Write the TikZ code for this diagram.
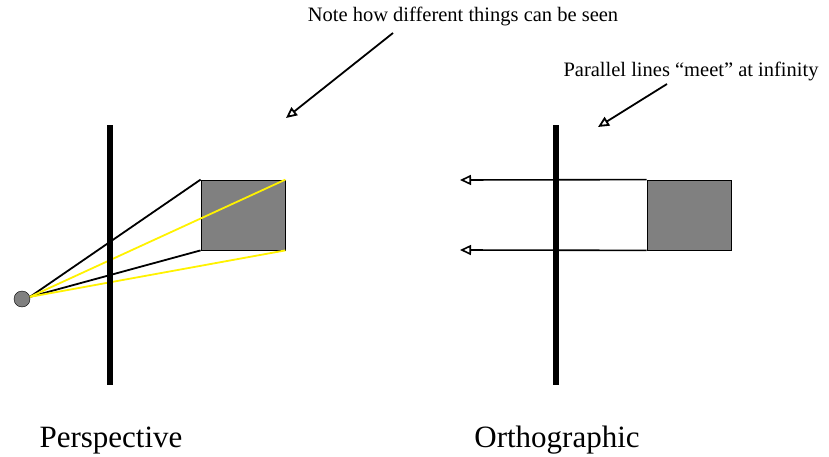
\documentclass[tikz,border=0pt]{standalone}
\usepackage{fontspec}
\setmainfont{Liberation Serif}[Ligatures={TeX,NoCommon}]
\usetikzlibrary{positioning, arrows.meta}

\begin{document}
\begin{tikzpicture}[x=1pt, y=-1pt,
  plane/.style={draw, fill=black, minimum width=5pt, minimum height=259pt, inner sep=0pt},
  obj/.style={draw, line width=0.8pt, fill=gray, minimum width=84pt, minimum height=70pt, inner sep=0pt},
  ray/.style={line width=1.8pt},
  pointer/.style={line width=1.6pt, -{Triangle[open, length=11pt, width=10pt]}},
  small/.style={font=\fontsize{20.5}{24}\selectfont, anchor=base, inner sep=0pt},
  big/.style={font=\fontsize{31}{36}\selectfont, anchor=base, inner sep=0pt}]
\useasboundingbox (0,0) rectangle (829,457);
% perspective
\node[circle, draw, fill=gray, minimum size=16pt, inner sep=0pt] (eye) at (22,299) {};
\node[obj] (box) at (243,215) {};
\draw[ray] (eye.15) -- (box.north west);
\draw[ray] (eye.15) -- (box.south west);
\draw[ray, yellow] (eye.15) -- (box.north east);
\draw[ray, yellow] (eye.15) -- (box.south east);
\node[plane] (plane) at (110,255) {};
\node[big] (persp) at (111,447) {Perspective};
% orthographic
\node[obj] (obox) at (689,215) {};
\coordinate (far1) at (460,180);
\coordinate (far2) at (460,250);
\draw[pointer] (obox.north west) -- (far1);
\draw[pointer] (obox.south west) -- (far2);
\node[plane] (oplane) at (556,255) {};
\node[big] (ortho) at (557,447) {Orthographic};
% notes
\node[small] (note) at (463,22) {Note how different things can be seen};
\coordinate (n0) at (393,33);
\coordinate (n1) at (286,118);
\draw[pointer, line width=1.8pt] (n0) -- (n1);
\node[small] (meet) at (691,77) {Parallel lines “meet” at infinity};
\coordinate (m0) at (667,84);
\coordinate (m1) at (598,127);
\draw[pointer, line width=1.8pt] (m0) -- (m1);
\end{tikzpicture}
\end{document}
